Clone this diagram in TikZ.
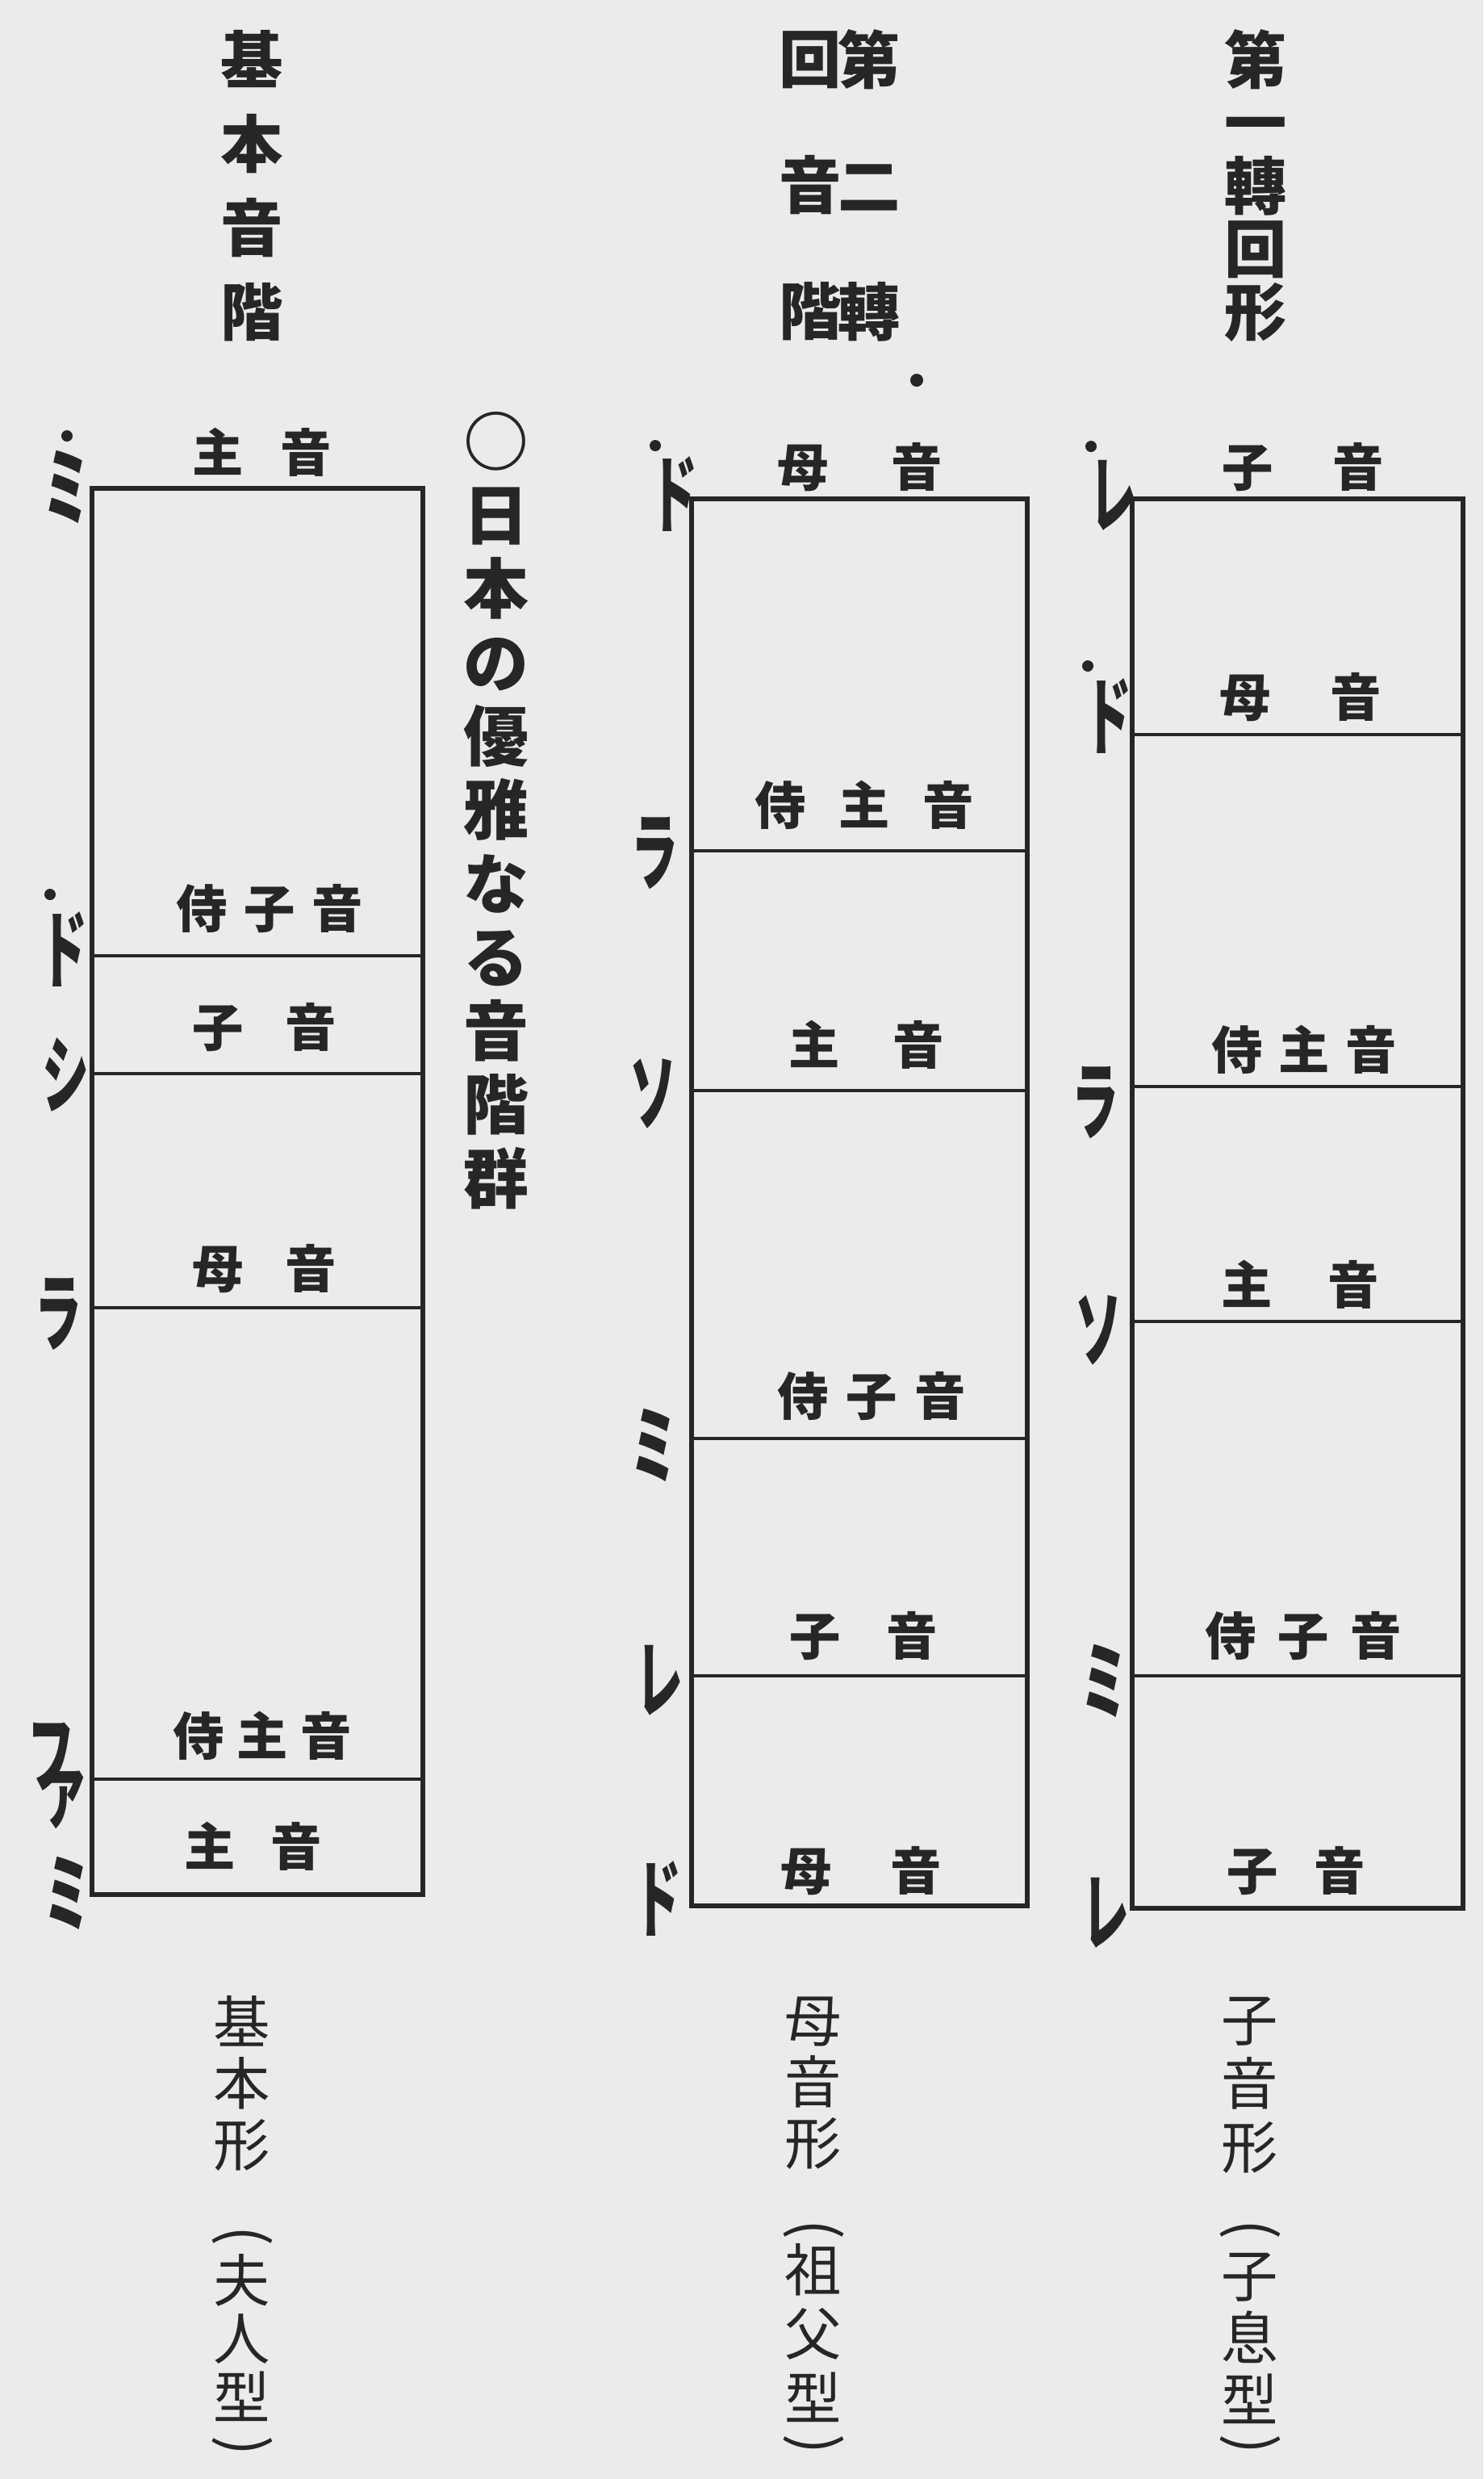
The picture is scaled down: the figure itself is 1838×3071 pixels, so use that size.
\documentclass[tikz,border=0pt]{standalone}
\usepackage{fontspec}
\usepackage{graphicx}
\newfontfamily\jp{Noto Sans CJK JP}
\definecolor{ink}{HTML}{262626}
\definecolor{paper}{HTML}{EBEBEB}
\newlength\pxu \setlength\pxu{0.01cm}
\newcommand\duo[3]{#1\hspace{\dimexpr #3\pxu-1em\relax}#2}
\newcommand\trio[4]{#1\hspace{\dimexpr #4\pxu-1em\relax}#2\hspace{\dimexpr #4\pxu-1em\relax}#3}
\newcommand\kn[1]{\scalebox{0.55}[1]{#1}}
\tikzset{
  lab/.style={inner sep=0pt, text=ink, font=\fontsize{18pt}{18pt}\selectfont\jp\bfseries},
  kana/.style={inner sep=0pt, text=ink, font=\fontsize{30pt}{30pt}\selectfont\jp\bfseries},
  vtitle/.style={inner sep=0pt, text=ink, align=center, font=\fontsize{22pt}{#1}\selectfont\jp\bfseries},
  vcap/.style={inner sep=0pt, text=ink, align=center, font=\fontsize{20pt}{#1}\selectfont\jp},
  vparen/.style={inner sep=0pt, text=ink, rotate=-90, font=\fontsize{21pt}{21pt}\selectfont\jp},
  octdot/.style={circle, fill=ink, inner sep=0pt, minimum size=0.14cm},
  frame/.style={draw=ink, line width=0.06cm},
  inner/.style={draw=ink, line width=0.045cm},
}
\begin{document}
\begin{tikzpicture}[x=0.01cm, y=-0.01cm]
\fill[paper] (0,0) rectangle (1838,3071);
\useasboundingbox (0,0) rectangle (1838,3071);

% ---------- titles ----------
\node[vtitle=1.04cm] (t1) at (312,230) {基\\本\\音\\階};
\node[vtitle=1.56cm] (t2r) at (1077,230) {第\\二\\轉};
\node[vtitle=1.56cm] (t2l) at (1004,230) {回\\音\\階};
\node[octdot, minimum size=0.16cm] (t2d) at (1136,471) {};
\node[vtitle=0.78cm] (t3) at (1556,230) {第\\一\\轉\\回\\形};

\node[inner sep=0pt, text=ink, align=center, font=\fontsize{23pt}{0.912cm}\selectfont\jp\bfseries] (side) at (615,1004)
  {○\\日\\本\\の\\優\\雅\\な\\る\\音\\階\\群};

% ---------- box 1 ----------
\draw[frame] (114,605) rectangle (524,2347);
\draw[inner] (114,1184) -- (524,1184);
\draw[inner] (114,1330) -- (524,1330);
\draw[inner] (114,1620) -- (524,1620);
\draw[inner] (114,2204) -- (524,2204);

\node[lab] (b1a) at (325,560) {\duo{主}{音}{109}};
\node[lab] (b1b) at (334,1126) {\trio{侍}{子}{音}{84}};
\node[lab] (b1c) at (328,1273) {\duo{子}{音}{115}};
\node[lab] (b1d) at (328,1572) {\duo{母}{音}{115}};
\node[lab] (b1e) at (325,2150) {\trio{侍}{主}{音}{79}};
\node[lab] (b1f) at (314,2287) {\duo{主}{音}{107}};

\node[octdot] (k1d1) at (83,540) {};
\node[kana] (k1a) at (83,604) {\kn{ミ}};
\node[octdot] (k1d2) at (62,1108) {};
\node[kana] (k1b) at (80,1176) {\kn{ド}};
\node[kana] (k1c) at (82,1331) {\kn{シ}};
\node[kana] (k1e) at (73,1628) {\kn{ラ}};
\node[kana] (k1f) at (72,2200) {\kn{フ\kern-0.72em\raisebox{-0.4em}{ァ}}};
\node[kana] (k1g) at (84,2345) {\kn{ミ}};

% ---------- box 2 ----------
\draw[frame] (857,618) rectangle (1273,2361);
\draw[inner] (857,1054) -- (1273,1054);
\draw[inner] (857,1351) -- (1273,1351);
\draw[inner] (857,1782) -- (1273,1782);
\draw[inner] (857,2076) -- (1273,2076);

\node[lab] (b2a) at (1066,579) {\duo{母}{音}{141}};
\node[lab] (b2b) at (1071,997) {\trio{侍}{主}{音}{104}};
\node[lab] (b2c) at (1074,1294) {\duo{主}{音}{129}};
\node[lab] (b2d) at (1080,1730) {\trio{侍}{子}{音}{85}};
\node[lab] (b2e) at (1070,2027) {\duo{子}{音}{120}};
\node[lab] (b2f) at (1067,2318) {\duo{母}{音}{136}};

\node[octdot] (k2d1) at (812,552) {};
\node[kana] (k2a) at (836,612) {\kn{ド}};
\node[kana] (k2b) at (812,1057) {\kn{ラ}};
\node[kana] (k2c) at (810,1355) {\kn{ソ}};
\node[kana] (k2d) at (811,1790) {\kn{ミ}};
\node[kana] (k2e) at (818,2082) {\kn{レ}};
\node[kana] (k2f) at (816,2352) {\kn{ド}};

% ---------- box 3 ----------
\draw[frame] (1403,618) rectangle (1813,2364);
\draw[inner] (1403,910) -- (1813,910);
\draw[inner] (1403,1346) -- (1813,1346);
\draw[inner] (1403,1637) -- (1813,1637);
\draw[inner] (1403,2076) -- (1813,2076);

\node[lab] (b3a) at (1615,579) {\duo{子}{音}{137}};
\node[lab] (b3b) at (1612,864) {\duo{母}{音}{137}};
\node[lab] (b3c) at (1616,1300) {\trio{侍}{主}{音}{83}};
\node[lab] (b3d) at (1611,1591) {\duo{主}{音}{132}};
\node[lab] (b3e) at (1615,2027) {\trio{侍}{子}{音}{90}};
\node[lab] (b3f) at (1606,2318) {\duo{子}{音}{108}};

\node[octdot] (k3d1) at (1352,553) {};
\node[kana] (k3a) at (1380,614) {\kn{レ}};
\node[octdot] (k3d2) at (1348,825) {};
\node[kana] (k3b) at (1374,887) {\kn{ド}};
\node[kana] (k3c) at (1358,1366) {\kn{ラ}};
\node[kana] (k3e) at (1362,1648) {\kn{ソ}};
\node[kana] (k3f) at (1369,2082) {\kn{ミ}};
\node[kana] (k3g) at (1371,2370) {\kn{レ}};

% ---------- captions ----------
\node[vcap=0.76cm] (c1a) at (300,2581) {基\\本\\形};
\node[vparen] (c1p) at (300,2770) {(};
\node[vcap=0.725cm] (c1b) at (300,2896) {夫\\人\\型};
\node[vparen] (c1q) at (300,3030) {)};

\node[vcap=0.76cm] (c2a) at (1008,2581) {母\\音\\形};
\node[vparen] (c2p) at (1008,2762) {(};
\node[vcap=0.79cm] (c2b) at (1008,2890) {祖\\父\\型};
\node[vparen] (c2q) at (1008,3028) {)};

\node[vcap=0.79cm] (c3a) at (1549,2583) {子\\音\\形};
\node[vparen] (c3p) at (1549,2762) {(};
\node[vcap=0.77cm] (c3b) at (1549,2897) {子\\息\\型};
\node[vparen] (c3q) at (1549,3028) {)};
\end{tikzpicture}
\end{document}
